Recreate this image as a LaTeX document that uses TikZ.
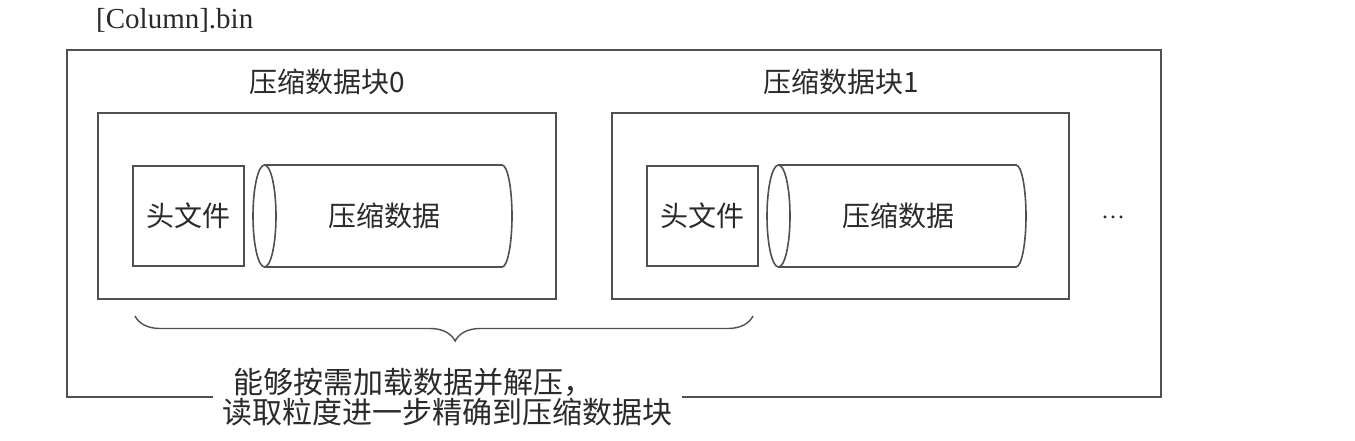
\documentclass[tikz,border=0pt]{standalone}
\usepackage{fontspec}
\setmainfont{Liberation Serif}
\newfontfamily\cjk{Noto Sans CJK SC}[Scale=1.0]
\usetikzlibrary{decorations.pathreplacing}
\definecolor{ln}{HTML}{505050}
\definecolor{tx}{HTML}{2A2A2A}
\begin{document}
\begin{tikzpicture}[x=1pt,y=-1pt,
  box/.style={draw=ln,line width=1.6pt},
  lbl/.style={text=tx,font=\cjk\fontsize{28}{32}\selectfont,inner sep=0pt},
  cyl/.style={draw=ln,line width=1.6pt,fill=white}]
\useasboundingbox (0,0) rectangle (1355,440);
% title
\node[text=tx,font=\fontsize{29}{32}\selectfont,anchor=west,inner sep=0pt] (title) at (96,20) {[Column].bin};
% outer box with gap at the bottom
\coordinate (gl) at (213,397);
\coordinate (gr) at (682,397);
\draw[box] (gl) -- (67,397) -- (67,50) -- (1161,50) -- (1161,397) -- (gr);
% block 0
\node[box,minimum width=458,minimum height=186,inner sep=0pt] (b0) at (327,206) {};
\node[lbl] (b0t) at (327,82) {压缩数据块0};
\node[box,minimum width=111,minimum height=100,inner sep=0pt] (h0) at (188.5,216) {};
\node[lbl] (h0t) at (h0) {头文件};
\draw[cyl] (264.5,165) -- (502,165) arc[start angle=90,end angle=-90,x radius=10pt,y radius=51pt] -- (264.5,267) arc[start angle=270,end angle=90,x radius=11.5pt,y radius=51pt] arc[start angle=90,end angle=-90,x radius=11.5pt,y radius=51pt];
\node[lbl] (c0t) at (384,216) {压缩数据};
% block 1
\node[box,minimum width=457,minimum height=186,inner sep=0pt] (b1) at (840.5,206) {};
\node[lbl] (b1t) at (841,82) {压缩数据块1};
\node[box,minimum width=111,minimum height=100,inner sep=0pt] (h1) at (702.5,216) {};
\node[lbl] (h1t) at (h1) {头文件};
\draw[cyl] (778.5,165) -- (1016,165) arc[start angle=90,end angle=-90,x radius=10pt,y radius=51pt] -- (778.5,267) arc[start angle=270,end angle=90,x radius=11.5pt,y radius=51pt] arc[start angle=90,end angle=-90,x radius=11.5pt,y radius=51pt];
\node[lbl] (c1t) at (898,216) {压缩数据};
% ellipsis
\node[text=tx,font=\fontsize{24}{28}\selectfont,inner sep=0pt] (dots) at (1113,217) {\ldots};
% brace
\coordinate (bl) at (135,316);
\coordinate (br) at (753,316);
\draw[draw=ln,line width=1.4pt,decorate,decoration={brace,mirror,amplitude=25pt,aspect=0.518}] (bl) -- (br);
% note
\node[text=tx,font=\cjk\fontsize{30}{30}\selectfont,align=left,anchor=north west,inner sep=0pt] (note) at (222,368) {\hspace*{11pt}能够按需加载数据并解压，\\读取粒度进一步精确到压缩数据块};
\end{tikzpicture}
\end{document}
